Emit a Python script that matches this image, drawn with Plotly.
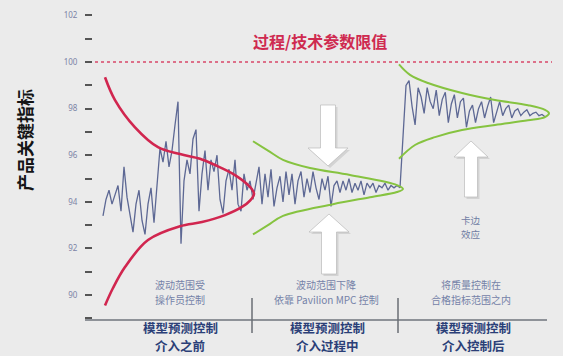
import numpy as np
import plotly.graph_objects as go

# ---------------- data ----------------
# key indicator readings, three phases (before / during / after MPC)
seg1_vals = [93.4, 94.1, 94.5, 93.9, 94.3, 94.7, 93.6, 95.5, 94.2, 93.4, 92.7, 93.9, 94.5,
             93.2, 92.6, 93.9, 94.6, 93.1, 94.9, 96.3, 95.7, 96.6, 95.5, 96.2, 97.3, 98.3,
             92.2, 94.9, 95.8, 95.2, 96.7, 97.1, 93.6, 95.2, 96.2, 94.5, 95.8, 95.3, 96.0,
             94.1, 93.5, 94.9, 95.4, 94.5, 95.8, 93.9, 93.6, 95.2, 94.5, 94.9, 94.1]
seg2_vals = [94.8, 95.5, 93.9, 95.2, 94.2, 95.4, 93.8, 94.6, 95.1, 94.0, 95.3, 94.3, 95.2,
             93.9, 94.9, 95.3, 94.2, 95.0, 94.4, 95.3, 94.6, 94.1, 95.0, 94.5, 95.1, 93.8,
             94.7, 94.9, 94.4, 94.9, 94.5, 95.0, 94.4, 94.8, 94.5, 94.9, 94.3, 94.8, 94.6,
             94.8, 94.4, 94.7, 94.6, 94.8, 94.5, 94.7, 94.6, 94.7, 94.6]
seg3_vals = [97.0, 99.0, 99.2, 98.1, 97.3, 98.9, 98.5, 97.8, 98.9, 98.3, 98.0, 98.8, 97.7,
             98.4, 98.7, 97.4, 98.2, 98.6, 97.6, 98.3, 98.45, 97.2, 97.9, 98.15, 97.4, 98.0,
             98.3, 97.6, 98.1, 98.5, 97.4, 97.9, 98.3, 97.7, 98.0, 98.15, 97.6, 97.9, 98.0,
             97.7, 97.85, 97.95, 97.7, 97.8, 97.85, 97.7, 97.75, 97.65]
seg_spans = [(103, 253), (256, 400), (403, 545)]

# red distribution curve (before MPC)
red_t = [105, 115, 135, 158, 180, 200, 215, 235, 250, 254, 250, 242, 225, 202, 180, 148, 125, 113, 105]
red_v = [99.35, 98.37, 97.2, 96.35, 96.05, 95.85, 95.58, 95.15, 94.64, 94.35, 94.05, 93.78,
         93.43, 93.13, 92.95, 92.36, 91.2, 90.3, 89.55]

# green funnel (during MPC)
g1_t = [253, 268, 283, 310, 350, 397, 403, 397, 370, 333, 283, 268, 253]
g1_v = [96.6, 96.2, 95.8, 95.45, 95.15, 94.72, 94.55, 94.42, 94.2, 93.9, 93.4, 93.0, 92.6]

# green funnel (after MPC)
g2_t = [399, 410, 428, 462, 495, 528, 545, 549, 545, 528, 495, 462, 435, 415, 399]
g2_v = [99.9, 99.45, 99.1, 98.67, 98.37, 98.15, 97.95, 97.8, 97.64, 97.5, 97.3, 97.08,
        96.78, 96.44, 95.85]

limit_value = 100
major_ticks = [90, 92, 94, 96, 98, 100, 102]
minor_ticks = [89, 91, 93, 95, 97, 99, 101]

title_text = "过程/技术参数限值"
ytitle_text = "产品关键指标"
phase_labels = [("模型预测控制", "介入之前"), ("模型预测控制", "介入过程中"), ("模型预测控制", "介入控制后")]
phase_notes = [("波动范围受", "操作员控制"), ("波动范围下降", "依靠 Pavilion MPC 控制"),
               ("将质量控制在", "合格指标范围之内")]
edge_note = ("卡边", "效应")

# ---------------- layout helpers ----------------
W, H = 563, 356
L, R, T, B = 93, 8, 5, 37
PW, PH = W - L - R, H - T - B


def px(x):
    return (x - L) / PW


def py(y):
    return (H - B - y) / PH


CJK = "Noto Sans CJK SC"

# build line
xs, ys = [], []
for vals, (a, b) in zip([seg1_vals, seg2_vals, seg3_vals], seg_spans):
    xs += list(np.linspace(a, b, len(vals)))
    ys += vals

fig = go.Figure()
fig.add_trace(go.Scatter(x=xs, y=ys, mode="lines",
                         line=dict(color="#5d6894", width=1.3), hoverinfo="skip"))
fig.add_trace(go.Scatter(x=red_t, y=red_v, mode="lines",
                         line=dict(color="#d1264f", width=2.6, shape="spline", smoothing=1.0),
                         hoverinfo="skip"))
for gt, gv in [(g1_t, g1_v), (g2_t, g2_v)]:
    fig.add_trace(go.Scatter(x=gt, y=gv, mode="lines",
                             line=dict(color="#86c340", width=2.0, shape="spline", smoothing=1.0),
                             hoverinfo="skip"))

shapes = []
# limit line
shapes.append(dict(type="line", xref="x", yref="y", x0=95, x1=552, y0=limit_value, y1=limit_value,
                   line=dict(color="#d9486a", width=1.6, dash="dot")))
# bottom axis line
shapes.append(dict(type="line", xref="paper", yref="paper", x0=px(85), x1=px(547), y0=py(320), y1=py(320),
                   line=dict(color="#8e9298", width=2)))
# dividers
for dx in [252, 398]:
    shapes.append(dict(type="line", xref="paper", yref="paper", x0=px(dx), x1=px(dx), y0=py(298), y1=py(333),
                       line=dict(color="#6a6e74", width=1.5)))


def arrow_path(cx, tip, base, end, hhw, shw, dx=0, dy=0):
    pts = [(cx, tip), (cx + hhw, base), (cx + shw, base), (cx + shw, end),
           (cx - shw, end), (cx - shw, base), (cx - hhw, base)]
    s = "M " + " L ".join(f"{px(x + dx):.5f},{py(y + dy):.5f}" for x, y in pts) + " Z"
    return s


arrows = [
    (328, 166, 148, 105, 20, 7.5),
    (329, 214, 232, 274, 20, 7.5),
    (471, 141, 157, 197, 17, 6.5),
]
for a in arrows:
    shapes.append(dict(type="path", xref="paper", yref="paper", path=arrow_path(*a, dx=2, dy=2),
                       fillcolor="rgba(0,0,0,0.10)", line=dict(width=0)))
    shapes.append(dict(type="path", xref="paper", yref="paper", path=arrow_path(*a),
                       fillcolor="#ffffff", line=dict(color="rgba(185,185,185,0.7)", width=1)))

annotations = []


def ann(text, x, y, font, **kw):
    d = dict(text=text, x=px(x), y=py(y), xref="paper", yref="paper", showarrow=False,
             xanchor="center", yanchor="middle", font=font)
    d.update(kw)
    annotations.append(d)


ann(title_text, 320, 41, dict(family=CJK, size=16, color="#cf2a50", weight="bold"))
ann(ytitle_text, 24, 140, dict(family=CJK, size=17, color="#151515", weight="bold"), textangle=-90)

note_font = dict(family=CJK, size=10, color="#7582a8")
for (l1, l2), cx in zip(phase_notes, [180, 326, 471]):
    ann(l1, cx, 284.5, note_font)
    ann(l2, cx, 299, note_font)

edge_font = dict(family=CJK, size=9.5, color="#6f7ca3")
ann(edge_note[0], 471, 219.5, edge_font)
ann(edge_note[1], 471, 233.5, edge_font)

label_font = dict(family=CJK, size=12.5, color="#2b3f78", weight="bold")
for (l1, l2), cx in zip(phase_labels, [180, 327, 473]):
    ann(l1, cx, 327.5, label_font)
    ann(l2, cx, 345.5, label_font)

fig.update_layout(
    width=W, height=H,
    margin=dict(l=L, r=R, t=T, b=B, pad=0),
    paper_bgcolor="#ebebeb", plot_bgcolor="#ebebeb",
    showlegend=False,
    shapes=shapes, annotations=annotations,
    xaxis=dict(range=[L, W - R], visible=False, fixedrange=True),
    yaxis=dict(range=[88.97, 102.45], tickvals=major_ticks, ticktext=[str(v) for v in major_ticks],
               ticks="outside", ticklen=7, tickwidth=1.5, tickcolor="#555555",
               showline=False, showgrid=False, zeroline=False, ticklabelstandoff=6,
               tickfont=dict(family="Noto Sans", size=8, color="#7b83a6"),
               minor=dict(tickvals=minor_ticks, ticks="outside", ticklen=7, tickwidth=1.5,
                          tickcolor="#555555", showgrid=False),
               fixedrange=True),
)

fig.write_html("out.html")
